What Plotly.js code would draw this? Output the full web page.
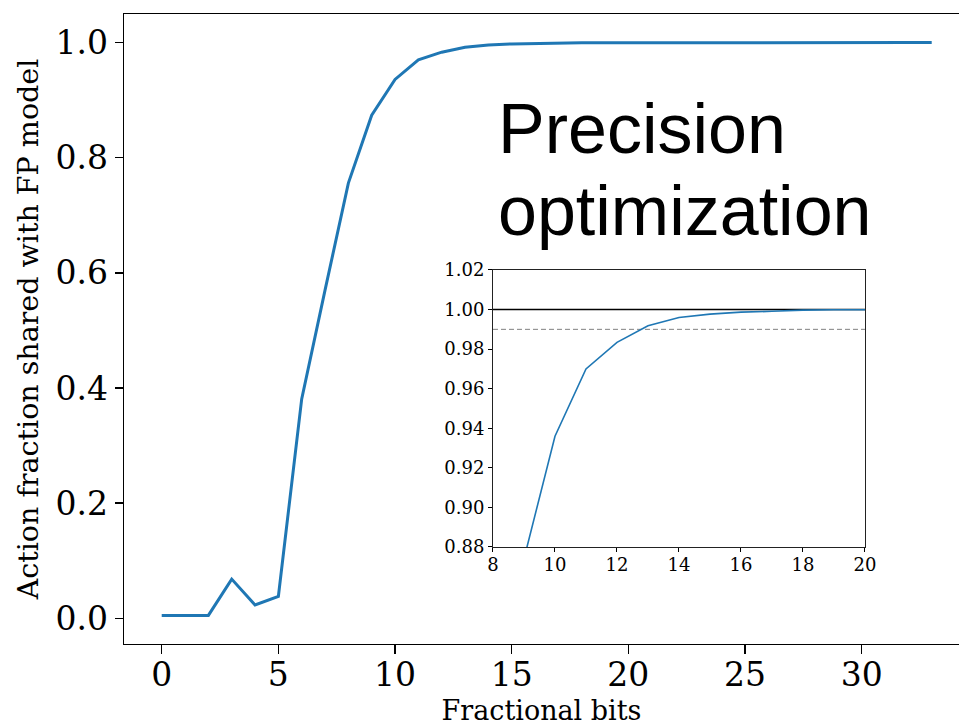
<!DOCTYPE html>
<html>
<head>
<meta charset="utf-8">
<script src="https://cdn.plot.ly/plotly-3.0.1.min.js"></script>
<style>
html,body{margin:0;padding:0;background:#fff;}
#chart{width:959px;height:726px;}
</style>
</head>
<body>
<div id="chart"></div>
<script>
// Fractional bits (x) and action fraction shared with FP model (y)
const fractionalBits = [0,1,2,3,4,5,6,7,8,9,10,11,12,13,14,15,16,17,18,19,20,21,22,23,24,25,26,27,28,29,30,31,32,33];
const sharedFraction = [0.005,0.005,0.005,0.068,0.023,0.038,0.381,0.570,0.756,0.874,0.936,0.970,0.9834,0.9918,0.9960,0.9977,0.9987,0.9991,0.9997,0.9999,1.0,1.0,1.0,1.0,1.0,1.0,1.0,1.0,1.0,1.0,1.0,1.0,1.0,1.0];
// Reference lines in the inset: full agreement and 99% threshold
const referenceLevels = [1.00, 0.99];
const mainXTicks = [0,5,10,15,20,25,30];
const mainYTicks = [0.0,0.2,0.4,0.6,0.8,1.0];
const insetXTicks = [8,10,12,14,16,18,20];
const insetYTicks = [0.88,0.90,0.92,0.94,0.96,0.98,1.00,1.02];
const annotationLines = ["Precision", "optimization"];

const blue = '#1f77b4';
const serif = 'DejaVu Serif, serif';

const traces = [
  {x: fractionalBits, y: sharedFraction, type:'scatter', mode:'lines',
   line:{color:blue, width:3}, xaxis:'x', yaxis:'y', hoverinfo:'skip'},
  {x: [8,20], y: [referenceLevels[0], referenceLevels[0]], type:'scatter', mode:'lines',
   line:{color:'#000', width:1.5}, xaxis:'x2', yaxis:'y2', hoverinfo:'skip'},
  {x: [8,20], y: [referenceLevels[1], referenceLevels[1]], type:'scatter', mode:'lines',
   line:{color:'#808080', width:1, dash:'5px,3px'}, xaxis:'x2', yaxis:'y2', hoverinfo:'skip'},
  {x: fractionalBits, y: sharedFraction, type:'scatter', mode:'lines',
   line:{color:blue, width:1.6}, xaxis:'x2', yaxis:'y2', hoverinfo:'skip'}
];

const annFont = {family:'Liberation Sans, Arial, sans-serif', size:70, color:'#000'};

const layout = {
  width:959, height:726,
  margin:{l:124, r:0, t:14, b:82},
  paper_bgcolor:'#fff', plot_bgcolor:'#fff',
  showlegend:false,
  font:{family:serif, color:'#000'},
  xaxis:{
    domain:[0,1], range:[-1.616, 34.17],
    tickvals: mainXTicks, ticktext: mainXTicks.map(String),
    ticks:'outside', ticklen:9, tickwidth:1.3, tickcolor:'#000',
    showline:true, linecolor:'#000', linewidth:1.3, mirror:true,
    showgrid:false, zeroline:false, ticklabelstandoff:-8,
    tickfont:{family:serif, size:33, color:'#000'},
    title:{text:'Fractional bits', font:{family:serif, size:27, color:'#000'}, standoff:14}
  },
  yaxis:{
    domain:[0,1], range:[-0.0447, 1.0497],
    tickvals: mainYTicks, ticktext: mainYTicks.map(v=>v.toFixed(1)),
    ticks:'outside', ticklen:8, tickwidth:1.3, tickcolor:'#000',
    showline:true, linecolor:'#000', linewidth:1.3, mirror:false,
    showgrid:false, zeroline:false,
    tickfont:{family:serif, size:33, color:'#000'},
    title:{text:'Action fraction shared with FP model', font:{family:serif, size:28.5, color:'#000'}, standoff:8}
  },
  xaxis2:{
    domain:[0.4419, 0.8874], anchor:'y2', range:[8,20],
    tickvals: insetXTicks, ticktext: insetXTicks.map(String),
    ticks:'outside', ticklen:4, tickwidth:1, tickcolor:'#000',
    showline:true, linecolor:'#222', linewidth:1, mirror:true,
    showgrid:false, zeroline:false, ticklabelstandoff:-3,
    tickfont:{family:serif, size:18, color:'#000'}
  },
  yaxis2:{
    domain:[0.154, 0.5937], anchor:'x2', range:[0.88,1.02],
    tickvals: insetYTicks, ticktext: insetYTicks.map(v=>v.toFixed(2)),
    ticks:'outside', ticklen:4, tickwidth:1, tickcolor:'#000',
    showline:true, linecolor:'#222', linewidth:1, mirror:true,
    showgrid:false, zeroline:false,
    tickfont:{family:serif, size:18, color:'#000'}
  },
  annotations:[
    {text: annotationLines[0], xref:'paper', yref:'paper', x:0.4455, y:0.8825,
     xanchor:'left', yanchor:'top', showarrow:false, font:annFont},
    {text: annotationLines[1], xref:'paper', yref:'paper', x:0.4455, y:0.7524,
     xanchor:'left', yanchor:'top', showarrow:false, font:annFont}
  ]
};

Plotly.newPlot('chart', traces, layout, {staticPlot:true, displayModeBar:false});
</script>
</body>
</html>
